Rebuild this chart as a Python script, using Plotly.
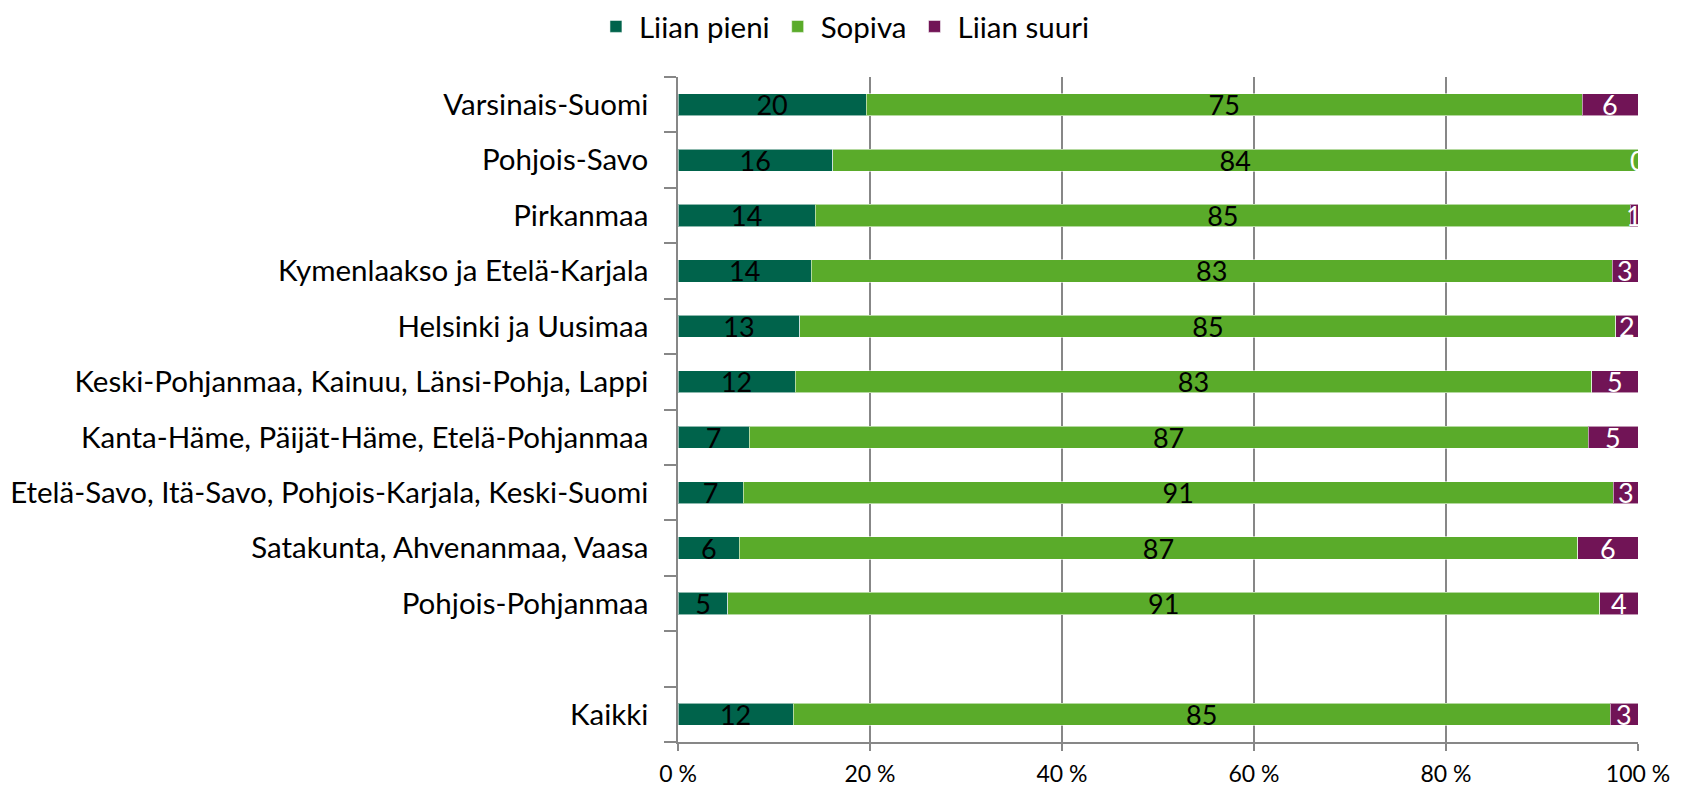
import plotly.graph_objects as go

categories = [
    "Varsinais-Suomi",
    "Pohjois-Savo",
    "Pirkanmaa",
    "Kymenlaakso ja Etelä-Karjala",
    "Helsinki ja Uusimaa",
    "Keski-Pohjanmaa, Kainuu, Länsi-Pohja, Lappi",
    "Kanta-Häme, Päijät-Häme, Etelä-Pohjanmaa",
    "Etelä-Savo, Itä-Savo, Pohjois-Karjala, Keski-Suomi",
    "Satakunta, Ahvenanmaa, Vaasa",
    "Pohjois-Pohjanmaa",
    " ",
    "Kaikki",
]
liian_pieni = [19.6, 16.1, 14.3, 13.9, 12.7, 12.2, 7.4, 6.8, 6.4, 5.2, None, 12.0]
sopiva = [74.6, 83.9, 84.9, 83.4, 85.0, 83.0, 87.4, 90.6, 87.3, 90.8, None, 85.1]
liian_suuri = [5.8, 0.0, 0.8, 2.7, 2.3, 4.8, 5.2, 2.6, 6.3, 4.0, None, 2.9]

x_ticks = [0, 20, 40, 60, 80, 100]
x_ticktext = [f"{t} %" for t in x_ticks]

series = [
    ("Liian pieni", liian_pieni, "#00634B", "black"),
    ("Sopiva", sopiva, "#5AAB2A", "black"),
    ("Liian suuri", liian_suuri, "#711456", "white"),
]

FONT = "Lato"
LABEL_SIZE = 27

fig = go.Figure()
for name, vals, color, tcolor in series:
    is_last = name == "Liian suuri"
    fig.add_trace(go.Bar(
        name=name,
        y=categories,
        x=vals,
        orientation="h",
        width=0.4,
        marker=dict(color=color, line=dict(color="rgba(255,255,255,0.55)", width=1)),
        text=None if is_last else [("" if v is None else f"{v:.0f}") for v in vals],
        textposition="none" if is_last else "inside",
        insidetextanchor="middle",
        textangle=0,
        textfont=dict(family=FONT, size=LABEL_SIZE, color=tcolor),
        hoverinfo="skip",
    ))

# labels for the last segment (also shows zero-width values), placed at segment centres
for cat, a, b, c in zip(categories, liian_pieni, sopiva, liian_suuri):
    if c is None:
        continue
    fig.add_annotation(
        x=a + b + c / 2, y=cat, xref="x", yref="y",
        text=f"{c:.0f}", showarrow=False,
        font=dict(family=FONT, size=LABEL_SIZE, color="white"),
        xanchor="center", yanchor="middle",
    )

fig.update_layout(
    barmode="stack",
    width=1682,
    height=780,
    paper_bgcolor="white",
    plot_bgcolor="white",
    margin=dict(l=670, r=52, t=69, b=46, autoexpand=False),
    font=dict(family=FONT, size=29, color="black"),
    uniformtext=dict(minsize=LABEL_SIZE, mode="show"),
    legend=dict(
        orientation="h",
        xref="container", yref="container",
        x=0.497, y=0.976,
        xanchor="center", yanchor="middle",
        font=dict(family=FONT, size=29.5, color="black"),
        traceorder="normal",
        itemwidth=36,
    ),
    showlegend=True,
)

fig.update_xaxes(
    range=[0, 100],
    tickmode="array",
    tickvals=x_ticks,
    ticktext=x_ticktext,
    tickfont=dict(family=FONT, size=23, color="black"),
    showgrid=True,
    gridcolor="#878787",
    gridwidth=1.5,
    showline=True,
    linecolor="#878787",
    linewidth=1.5,
    ticks="outside",
    ticklen=7,
    tickcolor="#878787",
    tickwidth=1.5,
    zeroline=False,
    ticklabelstandoff=4,
    automargin=False,
)
fig.update_yaxes(
    categoryorder="array",
    categoryarray=categories[::-1],
    tickfont=dict(family=FONT, size=29.5, color="black"),
    showline=True,
    linecolor="#878787",
    linewidth=1.5,
    ticks="outside",
    tickson="boundaries",
    ticklen=12,
    tickcolor="#878787",
    tickwidth=1.5,
    showgrid=False,
    ticklabelstandoff=22,
    automargin=False,
)

fig.write_html("out.html")
